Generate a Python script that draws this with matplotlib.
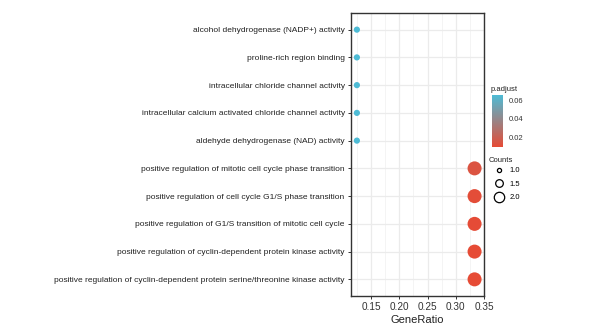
import numpy as np
import matplotlib
matplotlib.use("Agg")
import matplotlib.pyplot as plt
from matplotlib.colors import LinearSegmentedColormap, Normalize
from matplotlib.lines import Line2D

plt.rcParams['font.family'] = ['Liberation Sans', 'DejaVu Sans']

# GO terms, top to bottom as drawn
terms = [
    "alcohol dehydrogenase (NADP+) activity",
    "proline-rich region binding",
    "intracellular chloride channel activity",
    "intracellular calcium activated chloride channel activity",
    "aldehyde dehydrogenase (NAD) activity",
    "positive regulation of mitotic cell cycle phase transition",
    "positive regulation of cell cycle G1/S phase transition",
    "positive regulation of G1/S transition of mitotic cell cycle",
    "positive regulation of cyclin-dependent protein kinase activity",
    "positive regulation of cyclin-dependent protein serine/threonine kinase activity",
]
gene_ratio = [0.125, 0.125, 0.125, 0.125, 0.125, 0.3333, 0.3333, 0.3333, 0.3333, 0.3333]
counts = [1, 1, 1, 1, 1, 2, 2, 2, 2, 2]
p_adjust = [0.0655, 0.0655, 0.0655, 0.0655, 0.0655, 0.0135, 0.0105, 0.0096, 0.0092, 0.0092]

count_breaks = [1.0, 1.5, 2.0]
p_breaks = [0.02, 0.04, 0.06]

# ggsci npg red -> cyan
cmap = LinearSegmentedColormap.from_list("padj", ["#E64B35", "#4DBBD5"])
norm = Normalize(vmin=min(p_adjust), vmax=max(p_adjust))


def size_of(c):
    # marker area in pt^2
    return 20 + (c - 1.0) * 82


fig = plt.figure(figsize=(6.08, 3.36), dpi=100)
ax = fig.add_axes([351 / 608, 40 / 336, 133 / 608, 283 / 336])

y = np.arange(len(terms))[::-1]
ax.scatter(gene_ratio, y, s=[size_of(c) for c in counts], c=p_adjust, cmap=cmap, norm=norm,
           edgecolors="none", zorder=3)

ax.set_xlim(0.1146, 0.35)
ax.set_ylim(-0.6, len(terms) - 0.4)
ax.set_xticks([0.15, 0.20, 0.25, 0.30, 0.35])
ax.set_xticklabels(["0.15", "0.20", "0.25", "0.30", "0.35"])
ax.set_xticks([0.125, 0.175, 0.225, 0.275, 0.325], minor=True)
ax.set_yticks(y)
ax.set_yticklabels(terms)
ax.grid(True, which="major", color="#EBEBEB", lw=0.9, zorder=0)
ax.grid(True, which="minor", axis="x", color="#F2F2F2", lw=0.6, zorder=0)
ax.set_axisbelow(True)
ax.tick_params(axis="both", which="major", length=2.5, width=0.7, color="#333333",
               labelsize=6.0, labelcolor="#222222", pad=2)
ax.tick_params(axis="x", which="minor", length=0)
ax.tick_params(axis="x", labelsize=7.2, labelcolor="#333333")
for sp in ax.spines.values():
    sp.set_color("#333333")
    sp.set_linewidth(1.0)
ax.set_xlabel("GeneRatio", fontsize=8, color="#222222", labelpad=2)

# colour bar for p.adjust
cax = fig.add_axes([492 / 608, (336 - 147) / 336, 11 / 608, 52 / 336])
cb = fig.colorbar(plt.cm.ScalarMappable(norm=norm, cmap=cmap), cax=cax)
cb.set_ticks(p_breaks)
cb.set_ticklabels(["0.02", "0.04", "0.06"])
cb.outline.set_visible(False)
cax.tick_params(length=2, width=0.6, color="white", labelsize=5.5, labelcolor="#333333", pad=2)
fig.text(491 / 608, 1 - 90 / 336, "p.adjust", fontsize=5.5, color="#222222", va="center")

# size legend for Counts
fig.text(489 / 608, 1 - 160.5 / 336, "Counts", fontsize=5.5, color="#222222", va="center")
handles = [Line2D([], [], ls="none", marker="o", markerfacecolor="none", markeredgecolor="black",
                  markeredgewidth=0.9, markersize=ms)
           for ms in [3.0, 5.5, 7.5]]
leg = fig.legend(handles, ["%.1f" % b for b in count_breaks],
                 loc="upper left", bbox_to_anchor=(495 / 608, 1 - 167 / 336), frameon=False,
                 fontsize=5.5, handlelength=1.0, handletextpad=0.9,
                 labelspacing=0.8, borderaxespad=0, borderpad=0)

fig.savefig("out.png", dpi=100)
